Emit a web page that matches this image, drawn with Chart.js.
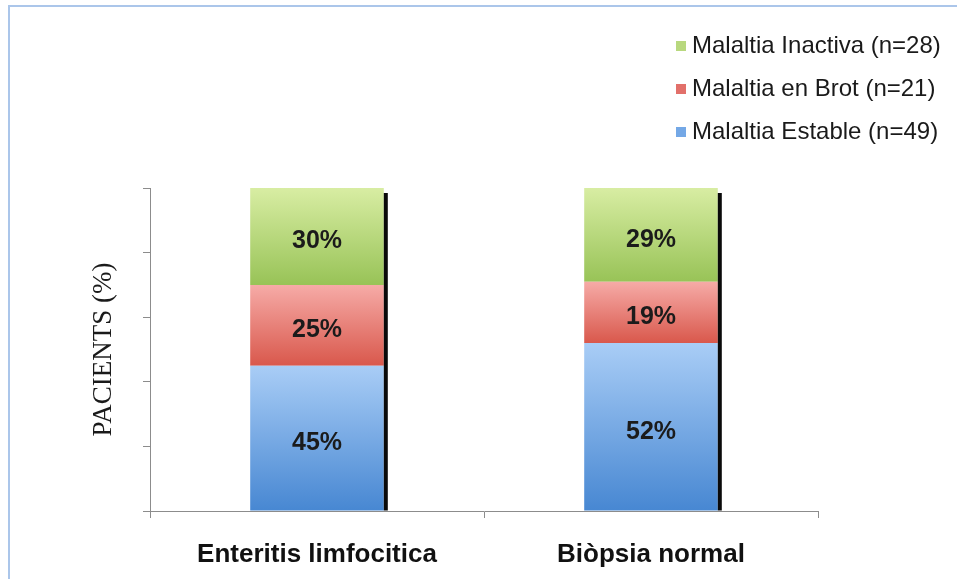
<!DOCTYPE html>
<html>
<head>
<meta charset="utf-8">
<script src="https://cdn.jsdelivr.net/npm/chart.js@4.4.1/dist/chart.umd.min.js"></script>
<style>
  html, body { margin: 0; padding: 0; background: #ffffff; }
  #wrap { position: relative; width: 957px; height: 579px; }
  #frame {
    position: absolute; left: 8px; top: 5px; right: 0; bottom: 0;
    border-top: 2px solid #abc6ea; border-left: 2px solid #abc6ea;
    pointer-events: none;
  }
</style>
</head>
<body>
<div id="wrap">
  <canvas id="chart" width="957" height="579"></canvas>
  <div id="frame"></div>
</div>
<script>
// Categories (biopsy result) and share of patients per disease state, in %
const categories = ['Enteritis limfocitica', 'Biòpsia normal'];
const estable  = [45, 52];
const brot     = [25, 19];
const inactiva = [30, 29];
const seriesLabels = ['Malaltia Estable (n=49)', 'Malaltia en Brot (n=21)', 'Malaltia Inactiva (n=28)'];
const yTicks = [0, 20, 40, 60, 80, 100];

// top / bottom colours of each segment's vertical gradient
const gradStops = [
  ['#a9cdf6', '#4787d2'],   // estable
  ['#f6aba7', '#d9584c'],   // brot
  ['#d8eda3', '#98c357']    // inactiva
];
const legendSwatch = ['#74a8e6', '#e2706a', '#b8d87e'];

function gradientFill(ctx) {
  const chart = ctx.chart;
  const di = ctx.datasetIndex;
  const idx = ctx.dataIndex;
  const y = chart.scales.y;
  if (!chart.chartArea || !y || idx === undefined) return gradStops[di][1];
  let start = 0;
  for (let i = 0; i < di; i++) start += chart.data.datasets[i].data[idx];
  const end = start + chart.data.datasets[di].data[idx];
  const top = y.getPixelForValue(end);
  const bot = y.getPixelForValue(start);
  if (!isFinite(top) || !isFinite(bot)) return gradStops[di][1];
  const g = chart.ctx.createLinearGradient(0, top, 0, bot);
  g.addColorStop(0, gradStops[di][0]);
  g.addColorStop(1, gradStops[di][1]);
  return g;
}

// dark drop line on the right side of each stacked column
const stackShadow = {
  id: 'stackShadow',
  afterDatasetsDraw(chart) {
    const ctx = chart.ctx;
    const n = chart.data.datasets.length;
    const topMeta = chart.getDatasetMeta(n - 1);
    const baseMeta = chart.getDatasetMeta(0);
    ctx.save();
    ctx.fillStyle = '#0a0a0a';
    topMeta.data.forEach((el, i) => {
      const base = baseMeta.data[i].base;
      const right = el.x + el.width / 2;
      ctx.fillRect(right, el.y + 5, 4, base - el.y - 5);
    });
    ctx.restore();
  }
};

// percentage labels centred in each segment
const segmentLabels = {
  id: 'segmentLabels',
  afterDatasetsDraw(chart) {
    const ctx = chart.ctx;
    ctx.save();
    ctx.font = 'bold 25px "Liberation Sans", Arial, sans-serif';
    ctx.fillStyle = '#1b1b1b';
    ctx.textAlign = 'center';
    ctx.textBaseline = 'middle';
    chart.data.datasets.forEach((ds, di) => {
      chart.getDatasetMeta(di).data.forEach((el, i) => {
        ctx.fillText(ds.data[i] + '%', el.x, (el.y + el.base) / 2 + 5);
      });
    });
    ctx.restore();
  }
};

// legend stacked top-right, last series first
const cornerLegend = {
  id: 'cornerLegend',
  afterDraw(chart) {
    const ctx = chart.ctx;
    const n = chart.data.datasets.length;
    const x = chart.width - 281;
    ctx.save();
    ctx.font = '24px "Liberation Sans", Arial, sans-serif';
    ctx.textBaseline = 'middle';
    ctx.textAlign = 'left';
    for (let k = 0; k < n; k++) {
      const di = n - 1 - k;
      const cy = 46 + k * 43;
      ctx.fillStyle = legendSwatch[di];
      ctx.fillRect(x, cy - 5, 10, 10);
      ctx.fillStyle = '#1a1a1a';
      ctx.fillText(chart.data.datasets[di].label, x + 16, cy);
    }
    ctx.restore();
  }
};

const datasets = [estable, brot, inactiva].map((vals, i) => ({
  label: seriesLabels[i],
  data: vals,
  backgroundColor: gradientFill,
  borderWidth: 0,
  barPercentage: 0.4,
  categoryPercentage: 1.0
}));

new Chart(document.getElementById('chart'), {
  type: 'bar',
  data: { labels: categories, datasets },
  plugins: [stackShadow, segmentLabels, cornerLegend],
  options: {
    responsive: false,
    animation: false,
    layout: { padding: { top: 188, right: 139, bottom: 0, left: 0 } },
    plugins: { legend: { display: false }, tooltip: { enabled: false } },
    scales: {
      x: {
        stacked: true,
        afterFit(scale) { scale.height = 68; },
        grid: {
          offset: true,
          drawOnChartArea: false,
          drawTicks: true,
          tickLength: 7,
          color: '#8c8c8c'
        },
        border: { color: '#8c8c8c', width: 1 },
        ticks: {
          color: '#111111',
          padding: 21,
          font: { family: '"Liberation Sans", Arial, sans-serif', size: 26, weight: 'bold' }
        }
      },
      y: {
        stacked: true,
        min: yTicks[0],
        max: yTicks[yTicks.length - 1],
        afterFit(scale) { scale.width = 150; },
        afterBuildTicks(scale) { scale.ticks = yTicks.map(v => ({ value: v })); },
        grid: {
          drawOnChartArea: false,
          drawTicks: true,
          tickLength: 7,
          color: '#8c8c8c'
        },
        border: { color: '#8c8c8c', width: 1 },
        ticks: { display: false },
        title: {
          display: true,
          text: 'PACIENTS (%)',
          color: '#1a1a1a',
          padding: { top: 88, bottom: 0 },
          font: { family: '"Liberation Serif", "Times New Roman", serif', size: 27, weight: 'normal' }
        }
      }
    }
  }
});
</script>
</body>
</html>
